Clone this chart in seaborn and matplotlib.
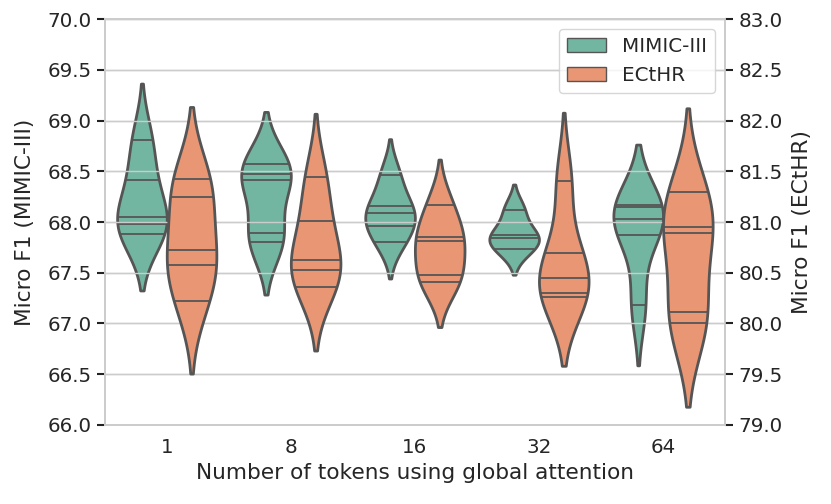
import seaborn as sns
import matplotlib.pyplot as plt
import pandas as pd
from matplotlib.patches import Patch

sns.set_theme(style="whitegrid", font_scale=1.3)

tokens = ["1", "8", "16", "32", "64"]

# micro F1 per run
mimic_1 = [68.81, 68.41, 68.05, 67.98, 67.88]
mimic_8 = [68.57, 68.47, 68.41, 67.89, 67.80]
mimic_16 = [68.46, 68.16, 68.09, 67.96, 67.80]
mimic_32 = [68.12, 67.87, 67.84, 67.73]
mimic_64 = [68.17, 68.15, 68.03, 67.87, 67.18]

ecthr_1 = [81.42, 81.25, 80.72, 80.58, 80.22]
ecthr_8 = [81.44, 81.01, 80.63, 80.53, 80.36]
ecthr_16 = [81.17, 80.85, 80.81, 80.48, 80.41]
ecthr_32 = [81.40, 80.69, 80.45, 80.30, 80.26]
ecthr_64 = [81.30, 80.95, 80.89, 80.11, 80.00]

mimic = [mimic_1, mimic_8, mimic_16, mimic_32, mimic_64]
ecthr = [ecthr_1, ecthr_8, ecthr_16, ecthr_32, ecthr_64]
datasets = ["MIMIC-III", "ECtHR"]

rows = []
for t, vals in zip(tokens, mimic):
    for v in vals:
        rows.append({"tokens": t, "f1": v, "dataset": "MIMIC-III"})
for t, vals in zip(tokens, ecthr):
    for v in vals:
        rows.append({"tokens": t, "f1": v, "dataset": "ECtHR"})
df = pd.DataFrame(rows)
df1 = df[df["dataset"] == "MIMIC-III"]
df2 = df[df["dataset"] == "ECtHR"]

fig, ax = plt.subplots(figsize=(8.31, 5.04), dpi=100)
ax2 = ax.twinx()

kw = dict(x="tokens", y="f1", hue="dataset", order=tokens, hue_order=datasets,
          palette="Set2", inner="stick", density_norm="width", dodge=True,
          linecolor="#555555", linewidth=2, inner_kws={"linewidth": 1.3},
          legend=False)
sns.violinplot(data=df1, ax=ax, **kw)
sns.violinplot(data=df2, ax=ax2, **kw)

ax.set_ylim(66, 70)
ax2.set_ylim(79, 83)
ax.set_yticks([66 + 0.5 * i for i in range(9)])
ax2.set_yticks([79 + 0.5 * i for i in range(9)])
ax.yaxis.set_major_formatter("{x:.1f}")
ax2.yaxis.set_major_formatter("{x:.1f}")
ax.set_xlim(-0.5, 4.5)
ax.grid(False, axis="x")
ax2.grid(False, axis="x")
ax.tick_params(axis="y", left=True, length=6, width=1.5, color="#222222")
ax2.tick_params(axis="y", right=True, length=6, width=1.5, color="#222222")

ax.set_xlabel("Number of tokens using global attention")
ax.set_ylabel("Micro F1 (MIMIC-III)", labelpad=9)
ax2.set_ylabel("Micro F1 (ECtHR)", labelpad=7)

pal = sns.color_palette("Set2", 2)
handles = [Patch(facecolor=sns.desaturate(pal[i], 0.75), edgecolor="#555555",
                 linewidth=1, label=datasets[i]) for i in range(2)]
ax2.legend(handles=handles, loc="upper right")

plt.subplots_adjust(left=0.126, right=0.8725, top=0.962, bottom=0.157)
plt.savefig("out.png")
